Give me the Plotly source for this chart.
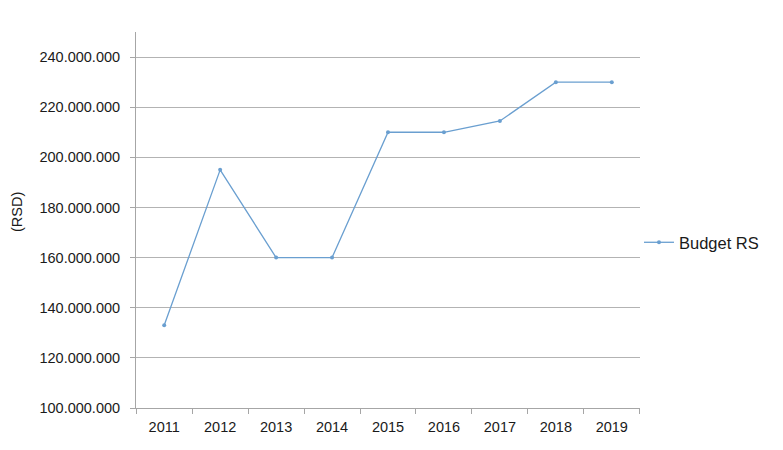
import plotly.graph_objects as go

years = ["2011", "2012", "2013", "2014", "2015", "2016", "2017", "2018", "2019"]
budget = [133000000, 195000000, 160000000, 160000000, 210000000, 210000000, 214500000, 230000000, 230000000]
y_ticks = [100000000, 120000000, 140000000, 160000000, 180000000, 200000000, 220000000, 240000000]

fig = go.Figure()
fig.add_trace(go.Scatter(
    x=years, y=budget, mode="lines+markers", name="Budget RS",
    line=dict(color="#6A9FD0", width=1.3),
    marker=dict(size=4, color="#6A9FD0"),
))

font = dict(family="Liberation Sans, Arial, sans-serif", size=14.5, color="#1a1a1a")
fig.update_layout(
    width=775, height=442,
    margin=dict(l=128, r=143, t=24, b=42),
    paper_bgcolor="white", plot_bgcolor="white",
    separators=",.",
    font=font,
    showlegend=True,
    legend=dict(x=0.998, y=0.44, xanchor="left", yanchor="middle", itemwidth=30,
                font=dict(family="Liberation Sans, Arial, sans-serif", size=16.5, color="#1a1a1a"),
                bgcolor="rgba(0,0,0,0)"),
    xaxis=dict(type="category", showgrid=False, showline=True, linecolor="#a6a6a6", linewidth=1,
               ticks="outside", tickson="boundaries", ticklen=5, tickcolor="#a6a6a6",
               ticklabelstandoff=6, tickfont=font),
    yaxis=dict(range=[100000000, 250000000], tickvals=y_ticks, tickformat=",d",
               showgrid=True, gridcolor="#b3b3b3", gridwidth=1,
               showline=True, linecolor="#a6a6a6", linewidth=1,
               ticks="outside", ticklen=5, tickcolor="#a6a6a6",
               ticklabelstandoff=7, zeroline=False, tickfont=font),
    annotations=[dict(text="(RSD)", textangle=-90, xref="paper", yref="paper",
                      x=-0.235, y=0.52, xanchor="center", yanchor="middle",
                      showarrow=False, font=dict(family="Liberation Sans, Arial, sans-serif", size=14.5, color="#1a1a1a"))],
)

fig.write_html("out.html")
